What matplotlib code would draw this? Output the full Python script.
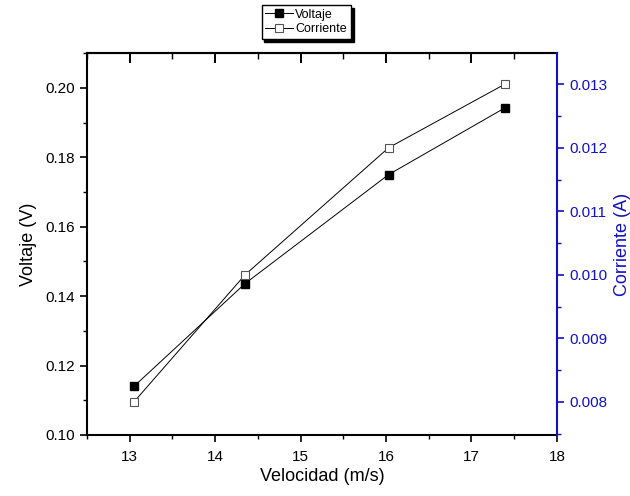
import matplotlib
matplotlib.use("Agg")
import matplotlib.pyplot as plt
from matplotlib.ticker import MultipleLocator, FormatStrFormatter

plt.rcParams['font.family'] = ['Liberation Sans', 'DejaVu Sans']

velocidad = [13.05, 14.35, 16.03, 17.39]
voltaje = [0.114, 0.1436, 0.175, 0.1942]
corriente = [0.0080, 0.0100, 0.0120, 0.0130]

blue = '#1010c8'

fig = plt.figure(figsize=(6.3, 4.96), dpi=100)
ax = fig.add_axes([0.138, 0.123, 0.746, 0.770])
ax2 = ax.twinx()

l1, = ax.plot(velocidad, voltaje, color='black', lw=0.7, marker='s', ms=5.5,
              mfc='black', mec='black', label='Voltaje')
l2, = ax2.plot(velocidad, corriente, color='black', lw=0.7, marker='s', ms=6,
               mfc='white', mec='#555555', mew=0.8, label='Corriente')

ax.set_xlim(12.5, 18)
ax.set_ylim(0.10, 0.21)
ax2.set_ylim(0.00748, 0.01349)

ax.xaxis.set_major_locator(MultipleLocator(1))
ax.xaxis.set_minor_locator(MultipleLocator(0.5))
ax.yaxis.set_major_locator(MultipleLocator(0.02))
ax.yaxis.set_minor_locator(MultipleLocator(0.01))
ax.yaxis.set_major_formatter(FormatStrFormatter('%.2f'))
ax2.yaxis.set_major_locator(MultipleLocator(0.001))
ax2.yaxis.set_minor_locator(MultipleLocator(0.0005))
ax2.yaxis.set_major_formatter(FormatStrFormatter('%.3f'))

ax.tick_params(axis='x', which='both', direction='out', top=False)
ax.tick_params(axis='both', which='major', length=5, width=1.2, labelsize=11)
ax.tick_params(axis='x', which='major', pad=6)
ax.tick_params(axis='both', which='minor', length=3, width=1.0)
ax.tick_params(axis='y', which='both', direction='out', right=False)
ax2.tick_params(axis='y', which='major', length=5, width=1.2, labelsize=11,
                colors=blue, direction='out', pad=4)
ax2.tick_params(axis='y', which='minor', length=3, width=1.0, colors=blue, direction='out')

# top axis with inward ticks, no labels
sec = ax.secondary_xaxis('top')
sec.xaxis.set_major_locator(MultipleLocator(1))
sec.xaxis.set_minor_locator(MultipleLocator(0.5))
sec.tick_params(axis='x', which='major', direction='in', length=7, width=1.4, labeltop=False)
sec.tick_params(axis='x', which='minor', direction='in', length=4, width=1.0)
sec.spines['top'].set_linewidth(1.5)

for s in ['left', 'bottom', 'top']:
    ax.spines[s].set_linewidth(1.5)
ax2.spines['right'].set_color(blue)
ax2.spines['right'].set_linewidth(1.5)
for s in ['left', 'bottom', 'top']:
    ax2.spines[s].set_visible(False)
ax.spines['right'].set_visible(False)

ax.set_xlabel('Velocidad (m/s)', fontsize=13, labelpad=3)
ax.set_ylabel('Voltaje (V)', fontsize=13, labelpad=6)
ax2.set_ylabel('Corriente (A)', fontsize=13, color=blue, labelpad=5)

leg = fig.legend(handles=[l1, l2], loc='upper center', bbox_to_anchor=(0.486, 0.995),
                 fontsize=9, frameon=True, fancybox=False, numpoints=1,
                 handlelength=2.2, handletextpad=0.2, borderpad=0.3,
                 labelspacing=0.2, borderaxespad=0.2,
                 shadow={'color': 'black', 'alpha': 1.0})
leg.get_frame().set_edgecolor('black')
leg.get_frame().set_linewidth(1.0)

fig.savefig('out.png', dpi=100)
